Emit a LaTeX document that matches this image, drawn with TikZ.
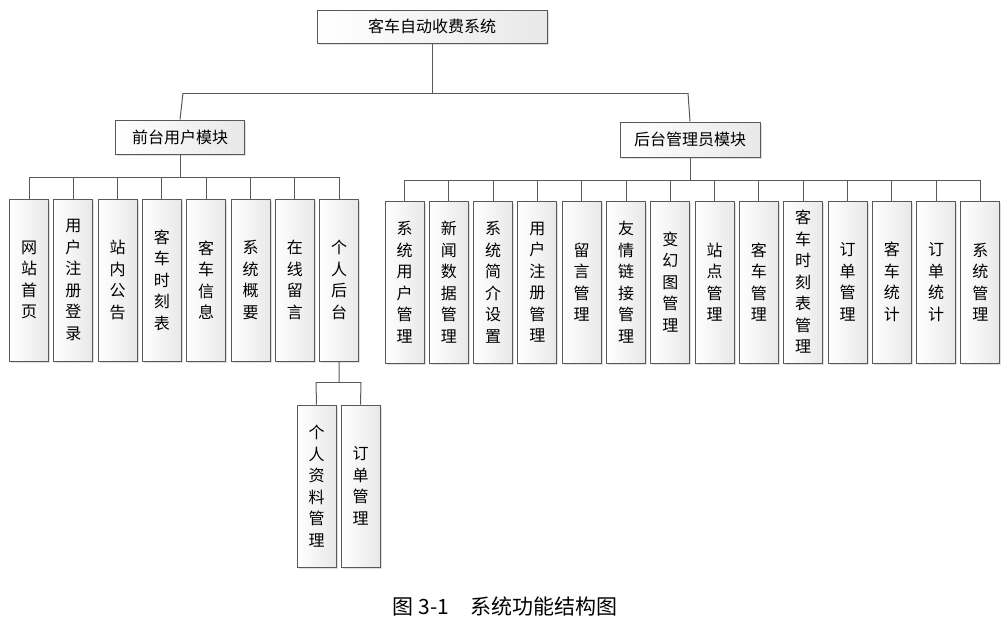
\documentclass[tikz,border=0pt]{standalone}
\usepackage{fontspec}
\setmainfont{Noto Sans CJK SC}
\usetikzlibrary{shadows}
\begin{document}
\begin{tikzpicture}[x=1pt,y=-1pt,
  bx/.style={draw=gray!70!black,line width=1pt,left color=white,right color=gray!18,inner sep=0pt,
    drop shadow={shadow xshift=1.5pt,shadow yshift=-1.5pt,fill=gray!50}},
  vb/.style={bx,minimum width=39pt,minimum height=162pt,align=center,font=\fontsize{16}{21.5}\selectfont},
  hb/.style={bx,font=\fontsize{16}{18}\selectfont},
  ln/.style={draw=gray!70!black,line width=1pt}]
\useasboundingbox (0,0) rectangle (1008,630);
\node[hb,minimum width=230pt,minimum height=33pt] (top) at (432,26.5) {客车自动收费系统};
\node[hb,minimum width=129pt,minimum height=34pt] (f) at (180,137) {前台用户模块};
\node[hb,minimum width=140pt,minimum height=35pt] (b) at (690,139.5) {后台管理员模块};
\draw[ln] (top.south) -- (432,93) coordinate (j);
\draw[ln] (183,93) -- (688,93);
\draw[ln] (183,93) -- (f.north);
\draw[ln] (688,93) -- (b.north);
% front
\draw[ln] (f.south) -- (180,177);
\draw[ln] (29,177) -- (339,177);
\foreach \t [count=\i] in {网\\站\\首\\页,用\\户\\注\\册\\登\\录,站\\内\\公\\告,客\\车\\时\\刻\\表,客\\车\\信\\息,系\\统\\概\\要,在\\线\\留\\言,个\\人\\后\\台}{
  \pgfmathsetmacro\cx{29+44.3*(\i-1)}
  \draw[ln] (\cx,177) -- (\cx,199);
  \node[vb] (fa\i) at (\cx,280) {\t};
}
\draw[ln] (fa8.south) -- (339,382);
\draw[ln] (316,382) -- (361,382);
\node[vb] (p1) at (316.5,486) {个\\人\\资\\料\\管\\理};
\node[vb] (p2) at (360.5,486) {订\\单\\管\\理};
\draw[ln] (316,382) -- (p1.north);
\draw[ln] (361,382) -- (p2.north);
% back
\draw[ln] (b.south) -- (690,180);
\draw[ln] (404.5,180) -- (980,180);
\foreach \t [count=\i] in {系\\统\\用\\户\\管\\理,新\\闻\\数\\据\\管\\理,系\\统\\简\\介\\设\\置,用\\户\\注\\册\\管\\理,留\\言\\管\\理,友\\情\\链\\接\\管\\理,变\\幻\\图\\管\\理,站\\点\\管\\理,客\\车\\管\\理,客\\车\\时\\刻\\表\\管\\理,订\\单\\管\\理,客\\车\\统\\计,订\\单\\统\\计,系\\统\\管\\理}{
  \pgfmathsetmacro\cx{404.5+44.3*(\i-1)}
  \draw[ln] (\cx,180) -- (\cx,201);
  \node[vb] (ba\i) at (\cx,282) {\t};
}
\node[font=\fontsize{21}{24}\selectfont] (cap) at (505,606) {图 3-1\quad 系统功能结构图};
\end{tikzpicture}
\end{document}
